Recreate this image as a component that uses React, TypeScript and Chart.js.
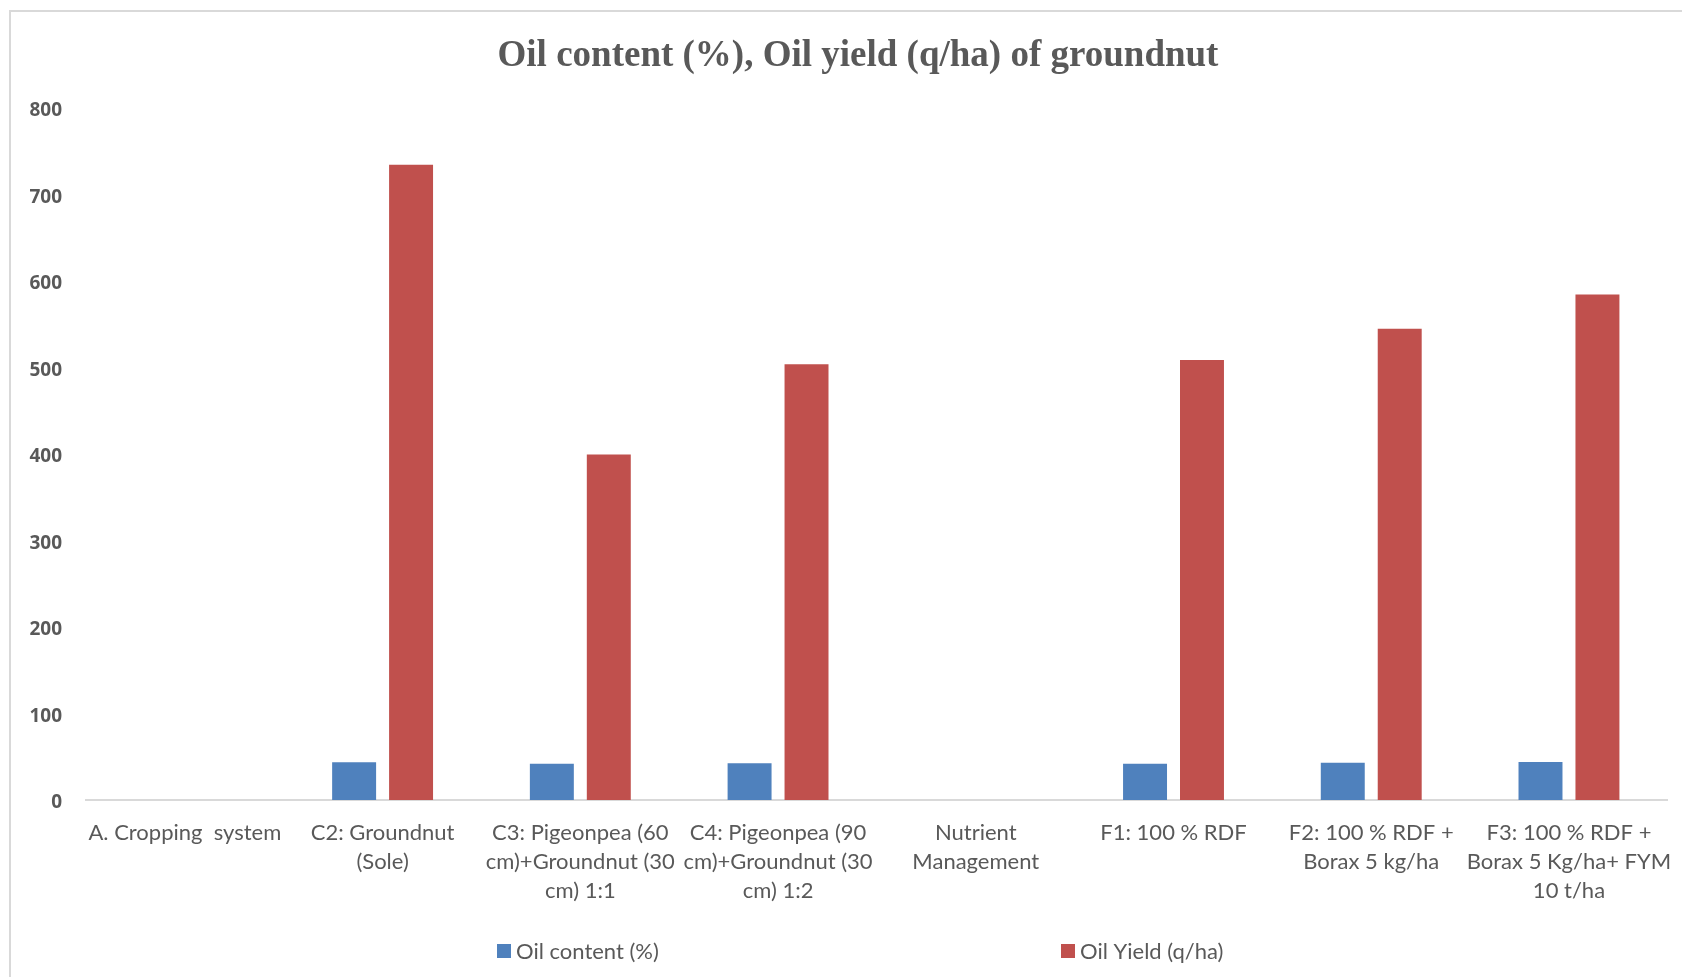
import { useEffect, useRef } from "react";
import { Chart, registerables } from "chart.js";

Chart.register(...registerables);

const titleText = "Oil content (%), Oil yield (q/ha) of groundnut";

const categories: string[][] = [
  ["A. Cropping  system"],
  ["C2: Groundnut", "(Sole)"],
  ["C3: Pigeonpea (60", "cm)+Groundnut (30", "cm) 1:1"],
  ["C4: Pigeonpea (90", "cm)+Groundnut (30", "cm) 1:2"],
  ["Nutrient", "Management"],
  ["F1: 100 % RDF"],
  ["F2: 100 % RDF +", "Borax 5 kg/ha"],
  ["F3: 100 % RDF +", "Borax 5 Kg/ha+ FYM", "10 t/ha"],
];

const oilContent: (number | null)[] = [null, 43.5, 41.8, 42.6, null, 41.9, 43.0, 43.9];
const oilYield: (number | null)[] = [null, 734.5, 399.5, 503.7, null, 508.7, 544.7, 584.4];

const seriesNames = ["Oil content (%)", "Oil Yield (q/ha)"];
const seriesColors = ["#4f81bd", "#c0504d"];

const yTicks = { min: 0, max: 800, step: 100 };

const textGray = "#595959";
const labelFont = "Lato, 'Open Sans', sans-serif";

// Title and the spread-out bottom legend are painted directly on the canvas.
const decorations = {
  id: "decorations",
  afterDraw(chart: Chart) {
    const ctx = chart.ctx;
    ctx.save();
    ctx.fillStyle = textGray;
    ctx.font = "bold 37px 'Liberation Serif', 'Times New Roman', serif";
    ctx.textAlign = "center";
    ctx.textBaseline = "middle";
    ctx.fillText(titleText, 858, 56);

    const legendX = [497, 1061];
    const legendY = 951;
    const box = 14;
    ctx.font = `22px ${labelFont}`;
    ctx.textAlign = "left";
    chart.data.datasets.forEach((ds, i) => {
      ctx.fillStyle = ds.backgroundColor as string;
      ctx.fillRect(legendX[i], legendY - box / 2, box, box);
      ctx.fillStyle = textGray;
      ctx.fillText(ds.label as string, legendX[i] + box + 5, legendY + 1);
    });
    ctx.restore();
  },
};

export default function App() {
  const canvasRef = useRef<HTMLCanvasElement | null>(null);

  useEffect(() => {
    if (!canvasRef.current) return;
    const chart = new Chart(canvasRef.current, {
      type: "bar",
      data: {
        labels: categories,
        datasets: [
          {
            label: seriesNames[0],
            data: oilContent,
            backgroundColor: seriesColors[0],
            categoryPercentage: 0.576,
            barPercentage: 0.772,
          },
          {
            label: seriesNames[1],
            data: oilYield,
            backgroundColor: seriesColors[1],
            categoryPercentage: 0.576,
            barPercentage: 0.772,
          },
        ],
      },
      options: {
        responsive: false,
        animation: false,
        layout: { padding: { top: 108, left: 0, right: 13, bottom: 0 } },
        plugins: {
          legend: { display: false },
          title: { display: false },
          tooltip: { enabled: false },
        },
        scales: {
          x: {
            grid: { display: false },
            border: { display: true, color: "#d9d9d9", width: 2 },
            ticks: {
              color: textGray,
              font: { family: labelFont, size: 22, lineHeight: 1.32 },
              padding: 10,
              maxRotation: 0,
              autoSkip: false,
            },
            afterFit(scale: any) {
              scale.height = 177;
            },
          },
          y: {
            min: yTicks.min,
            max: yTicks.max,
            grid: { display: false },
            border: { display: false },
            ticks: {
              stepSize: yTicks.step,
              color: textGray,
              font: { family: "'Open Sans', sans-serif", size: 19, weight: "bold" },
              padding: 16,
              labelOffset: 3,
            },
            afterFit(scale: any) {
              scale.width = 86;
            },
          },
        },
      },
      plugins: [decorations],
    });
    return () => chart.destroy();
  }, []);

  return (
    <div style={{ position: "fixed", left: 0, top: 0, width: 1682, height: 977, overflow: "hidden", background: "#fff" }}>
      <div
        style={{
          position: "absolute",
          left: 9,
          top: 10,
          width: 1700,
          height: 1000,
          border: "2px solid #d9d9d9",
        }}
      />
      <canvas ref={canvasRef} width={1682} height={977} style={{ position: "absolute", left: 0, top: 0 }} />
    </div>
  );
}
